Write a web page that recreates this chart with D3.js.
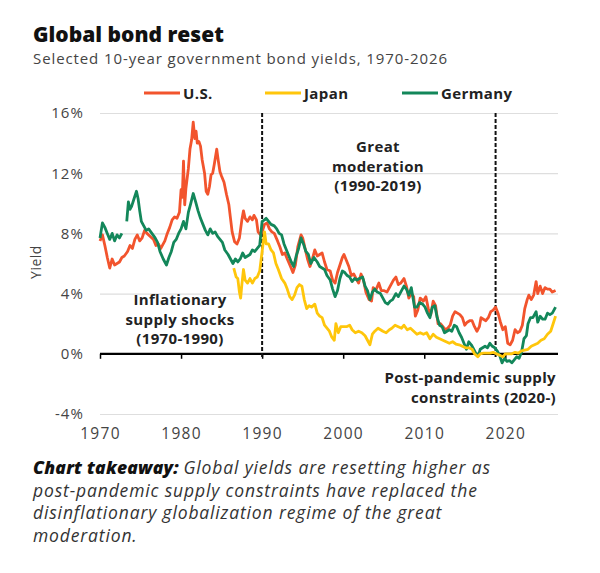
<!DOCTYPE html>
<html>
<head>
<meta charset="utf-8">
<script src="https://cdn.jsdelivr.net/npm/d3@7"></script>
<style>
  body { margin: 0; background: #fff; }
  text { font-family: "Open Sans", "Liberation Sans", sans-serif; }
</style>
</head>
<body>
<div id="chart"></div>
<script>
// 10-year government bond yields (year, % yield)
var usYears = [1970.0,1970.3,1970.6,1970.9,1971.2,1971.5,1971.8,1972.1,1972.4,1972.7,1973.0,1973.4,1973.7,1974.0,1974.3,1974.6,1974.9,1975.2,1975.5,1975.8,1976.2,1976.6,1976.9,1977.2,1977.5,1978.0,1978.3,1978.6,1978.9,1979.2,1979.5,1979.8,1980.0,1980.15,1980.3,1980.45,1980.6,1980.9,1981.1,1981.3,1981.5,1981.7,1981.85,1982.0,1982.2,1982.4,1982.6,1982.9,1983.1,1983.3,1983.5,1983.7,1983.9,1984.1,1984.4,1984.6,1984.8,1985.0,1985.3,1985.6,1985.9,1986.1,1986.3,1986.6,1986.9,1987.2,1987.5,1987.7,1987.9,1988.2,1988.5,1988.8,1989.0,1989.3,1989.5,1989.8,1990.0,1990.3,1990.6,1990.9,1991.2,1991.5,1991.9,1992.2,1992.5,1992.8,1993.1,1993.5,1993.8,1994.1,1994.4,1994.8,1995.0,1995.3,1995.6,1995.9,1996.2,1996.5,1996.8,1997.1,1997.4,1997.7,1998.0,1998.4,1998.7,1999.0,1999.3,1999.6,1999.9,2000.1,2000.4,2000.7,2001.0,2001.3,2001.6,2001.9,2002.2,2002.5,2002.8,2003.2,2003.5,2003.7,2004.0,2004.4,2004.7,2005.0,2005.4,2005.8,2006.2,2006.5,2006.8,2007.1,2007.5,2007.8,2008.1,2008.4,2008.7,2008.9,2009.2,2009.5,2009.9,2010.2,2010.5,2010.8,2011.1,2011.4,2011.7,2012.0,2012.3,2012.6,2012.9,2013.2,2013.5,2013.8,2014.1,2014.4,2014.7,2015.0,2015.3,2015.6,2015.9,2016.2,2016.5,2016.8,2017.0,2017.3,2017.6,2017.9,2018.2,2018.5,2018.8,2019.1,2019.4,2019.7,2020.0,2020.3,2020.6,2020.9,2021.2,2021.5,2021.8,2022.1,2022.4,2022.7,2022.9,2023.2,2023.5,2023.8,2024.0,2024.3,2024.6,2024.9,2025.2,2025.5,2025.8,2026.2];
var usYield = [7.5,7.9,7.2,6.4,5.7,6.3,5.9,6.0,6.1,6.4,6.5,6.8,7.2,7.0,7.6,7.9,7.5,7.7,8.2,8.0,7.8,7.6,7.2,7.3,7.0,7.5,8.0,8.4,8.9,9.1,9.0,9.4,10.9,10.4,12.8,9.9,11.0,12.3,13.6,14.2,15.4,14.3,14.8,14.0,14.1,13.8,12.9,12.0,10.8,10.6,11.1,11.9,12.0,12.6,13.6,12.8,12.1,11.8,11.4,10.6,9.9,9.0,8.1,7.45,7.3,7.7,8.9,9.5,9.0,8.8,9.1,8.9,9.2,8.9,8.1,7.9,8.1,8.6,8.7,8.3,8.1,8.0,7.5,7.1,6.6,6.7,6.3,5.8,5.4,5.9,7.1,7.9,7.7,7.0,6.3,5.8,6.3,6.9,6.5,6.6,6.7,6.1,5.6,5.5,4.9,4.7,5.4,5.9,6.4,6.6,6.2,5.8,5.2,5.3,5.0,4.7,5.3,4.9,4.1,3.6,3.5,4.4,4.2,4.7,4.2,4.2,4.1,4.5,4.9,5.1,4.6,4.7,5.0,4.5,3.7,4.0,3.8,2.5,2.9,3.7,3.5,3.8,3.0,2.6,3.5,3.2,2.0,2.0,1.8,1.6,1.7,1.9,2.5,2.8,2.7,2.6,2.4,1.9,2.1,2.2,2.2,1.8,1.5,1.8,2.4,2.3,2.2,2.4,2.8,2.9,3.1,2.7,2.1,1.6,1.8,0.7,0.6,0.9,1.6,1.4,1.5,1.9,3.0,3.6,3.9,3.6,3.9,4.8,4.0,4.5,4.0,4.4,4.3,4.3,4.1,4.2];

var japanYears = [1986.5,1986.8,1987.0,1987.2,1987.35,1987.5,1987.7,1987.9,1988.2,1988.5,1988.8,1989.1,1989.4,1989.7,1990.0,1990.3,1990.5,1990.8,1991.1,1991.4,1991.7,1992.0,1992.4,1992.8,1993.1,1993.4,1993.7,1994.0,1994.3,1994.6,1994.9,1995.2,1995.5,1995.8,1996.1,1996.5,1996.8,1997.1,1997.4,1997.7,1998.0,1998.3,1998.6,1998.9,1999.1,1999.4,1999.7,2000.0,2000.4,2000.8,2001.1,2001.5,2001.9,2002.3,2002.7,2003.0,2003.3,2003.6,2003.9,2004.3,2004.6,2004.9,2005.3,2005.7,2006.0,2006.4,2006.8,2007.2,2007.5,2007.9,2008.3,2008.7,2009.1,2009.5,2009.9,2010.3,2010.7,2011.1,2011.5,2011.9,2012.3,2012.7,2013.1,2013.5,2013.9,2014.3,2014.7,2015.1,2015.5,2015.9,2016.2,2016.6,2016.9,2017.3,2017.7,2018.1,2018.5,2018.9,2019.3,2019.7,2020.0,2020.4,2020.8,2021.2,2021.6,2022.0,2022.4,2022.8,2023.2,2023.6,2024.0,2024.4,2024.8,2025.2,2025.6,2025.9,2026.2];
var japanYield = [5.7,5.1,5.0,4.1,3.7,4.6,5.6,4.9,4.7,5.0,4.7,5.0,5.1,5.5,6.8,8.1,7.3,7.3,6.9,6.7,6.0,5.6,5.0,4.7,4.3,3.8,3.6,3.9,4.4,4.6,4.5,3.6,3.0,3.2,3.1,3.3,2.7,2.5,2.4,1.9,1.7,1.5,1.1,0.9,2.0,1.4,1.8,1.8,1.8,1.9,1.6,1.4,1.5,1.4,1.2,0.9,0.6,1.3,1.5,1.7,1.6,1.5,1.4,1.6,1.7,1.9,1.8,1.7,1.9,1.6,1.7,1.5,1.3,1.4,1.3,1.4,1.0,1.3,1.1,1.0,0.9,0.8,0.7,0.8,0.65,0.6,0.5,0.4,0.4,0.3,0.0,-0.2,0.0,0.05,0.05,0.05,0.1,0.0,-0.1,-0.2,0.0,0.0,0.0,0.1,0.05,0.2,0.25,0.3,0.5,0.6,0.7,0.9,1.0,1.3,1.5,2.0,2.5];

// null marks the gap in the German series around 1973
var germanyYears = [1970.0,1970.3,1970.6,1970.9,1971.2,1971.5,1971.8,1972.1,1972.4,1972.7,1973.0,1973.3,1973.5,1973.7,1973.9,1974.2,1974.5,1974.7,1974.9,1975.1,1975.4,1975.7,1976.0,1976.4,1976.8,1977.1,1977.4,1977.8,1978.2,1978.5,1978.8,1979.1,1979.4,1979.7,1980.0,1980.3,1980.6,1980.9,1981.2,1981.5,1981.8,1982.1,1982.4,1982.7,1983.0,1983.3,1983.6,1983.9,1984.2,1984.5,1984.8,1985.1,1985.4,1985.8,1986.1,1986.4,1986.7,1987.0,1987.3,1987.6,1987.9,1988.2,1988.5,1988.8,1989.1,1989.4,1989.7,1990.0,1990.3,1990.5,1990.8,1991.1,1991.5,1991.8,1992.1,1992.4,1992.7,1993.0,1993.3,1993.6,1993.9,1994.2,1994.5,1994.8,1995.1,1995.4,1995.7,1996.0,1996.4,1996.8,1997.1,1997.4,1997.7,1998.0,1998.4,1998.7,1999.0,1999.3,1999.6,1999.9,2000.2,2000.5,2000.8,2001.1,2001.4,2001.7,2002.0,2002.4,2002.7,2003.0,2003.3,2003.6,2003.9,2004.2,2004.6,2004.9,2005.2,2005.5,2005.8,2006.1,2006.5,2006.8,2007.1,2007.5,2007.8,2008.1,2008.4,2008.8,2009.1,2009.4,2009.8,2010.1,2010.4,2010.7,2011.0,2011.3,2011.6,2011.9,2012.2,2012.5,2012.8,2013.1,2013.4,2013.7,2014.0,2014.3,2014.6,2014.9,2015.2,2015.5,2015.8,2016.1,2016.4,2016.7,2016.9,2017.2,2017.5,2017.8,2018.1,2018.4,2018.7,2019.0,2019.3,2019.6,2019.9,2020.2,2020.5,2020.8,2021.1,2021.4,2021.7,2022.0,2022.3,2022.6,2022.8,2023.1,2023.4,2023.8,2024.0,2024.3,2024.6,2024.9,2025.2,2025.5,2025.8,2026.2];
var germanyYield = [7.7,8.7,8.4,8.0,7.6,8.0,7.5,7.9,7.7,8.0,null,8.8,10.1,9.6,9.8,10.3,10.8,10.3,9.5,8.8,8.5,8.2,8.3,8.0,7.7,7.4,6.8,6.3,5.9,6.4,6.8,7.4,7.6,8.0,8.3,8.8,8.3,9.4,10.0,10.65,10.1,9.5,9.0,8.6,8.2,7.9,8.3,8.0,8.1,7.8,7.6,7.4,6.9,6.6,6.3,6.0,6.3,6.1,6.3,6.7,6.4,6.5,6.6,6.9,6.8,7.0,7.2,8.8,8.9,9.0,8.8,8.6,8.5,8.3,8.0,7.9,7.3,6.9,6.5,6.1,5.8,6.5,7.0,7.7,7.3,6.8,6.6,6.0,6.4,6.1,5.8,5.7,5.6,5.2,4.9,4.3,3.8,4.2,5.0,5.5,5.4,5.2,5.1,4.8,5.0,4.9,5.0,5.1,4.5,4.2,3.6,4.1,4.3,4.1,4.0,3.7,3.4,3.3,3.5,3.6,4.0,3.8,4.1,4.5,4.3,3.9,4.4,3.1,3.1,3.4,3.3,3.1,2.7,2.4,3.1,3.2,2.4,1.9,1.8,1.4,1.5,1.6,1.5,1.9,1.8,1.4,1.1,0.7,0.3,0.8,0.6,0.3,0.0,-0.1,0.3,0.4,0.5,0.4,0.7,0.5,0.4,0.2,-0.1,-0.6,-0.3,-0.5,-0.45,-0.6,-0.4,-0.2,-0.3,0.1,1.0,1.2,2.0,2.4,2.4,2.8,2.1,2.5,2.3,2.3,2.7,2.6,2.7,3.1];

var yTicks = [-4, 0, 4, 8, 12, 16];
var xTicks = [1970, 1980, 1990, 2000, 2010, 2020];
var regimeBreaks = [1990, 2018.8];

var seriesNames = ["U.S.", "Japan", "Germany"];
var seriesColors = ["#f2542d", "#ffc60b", "#13875a"];

var width = 600, height = 573;

var svg = d3.select("#chart").append("svg")
  .attr("width", width)
  .attr("height", height);

svg.append("rect").attr("width", width).attr("height", height).attr("fill", "#fff");

var x = d3.scaleLinear().domain([1970, 2026.5]).range([100, 558]);
var y = d3.scaleLinear().domain([-4, 16]).range([414, 113]);

// title and subtitle
svg.append("text").attr("x", 33).attr("y", 42)
  .style("font-size", "21px").style("font-weight", 800).attr("fill", "#111")
  .text("Global bond reset");
svg.append("text").attr("x", 33).attr("y", 64)
  .style("font-size", "15px").style("letter-spacing", "0.9px").attr("fill", "#444")
  .text("Selected 10-year government bond yields, 1970-2026");

// legend
var legendX = [144, 265, 402];
seriesNames.forEach(function(n, i) {
  svg.append("line").attr("x1", legendX[i]).attr("x2", legendX[i] + 36)
    .attr("y1", 93).attr("y2", 93)
    .attr("stroke", seriesColors[i]).attr("stroke-width", 3);
  svg.append("text").attr("x", legendX[i] + 39).attr("y", 98.5)
    .style("font-size", "15px").style("font-weight", 700)
    .style("letter-spacing", "0.4px").attr("fill", "#222")
    .text(n);
});

// gridlines
var grid = svg.append("g").attr("transform", "translate(100,0)")
  .call(d3.axisLeft(y).tickValues(yTicks.filter(function(d) { return d !== 0; }))
    .tickSize(-458).tickFormat(""));
grid.select(".domain").remove();
grid.selectAll("line").attr("stroke", "#dedede").attr("stroke-width", 1.2);

// y labels
var yAx = svg.append("g").attr("transform", "translate(84,0)")
  .call(d3.axisLeft(y).tickValues(yTicks).tickSize(0).tickPadding(0)
    .tickFormat(function(d) { return d + "%"; }));
yAx.select(".domain").remove();
yAx.selectAll("text").style("font-size", "15px").style("letter-spacing", "1.1px")
  .attr("fill", "#444").style("font-family", "'Open Sans', sans-serif");

svg.append("text")
  .attr("transform", "translate(41,262) rotate(-90)")
  .attr("text-anchor", "middle")
  .style("font-size", "14px").style("letter-spacing", "0.5px").attr("fill", "#444")
  .text("Yield");

// zero axis with decade ticks
var zeroAx = svg.append("g").attr("transform", "translate(0," + y(0) + ")")
  .call(d3.axisBottom(x).tickValues(xTicks).tickSize(5).tickFormat(""));
zeroAx.select(".domain").attr("stroke", "#000").attr("stroke-width", 2.2)
  .attr("d", "M" + x(1970) + ",0H" + x(2026.5));
zeroAx.selectAll(".tick line").attr("stroke", "#000").attr("stroke-width", 1.5);

// x labels
var xAx = svg.append("g").attr("transform", "translate(0,425)")
  .call(d3.axisBottom(x).tickValues(xTicks).tickSize(0).tickFormat(d3.format("d")));
xAx.select(".domain").remove();
xAx.selectAll("text").style("font-size", "15.5px").style("letter-spacing", "1.3px")
  .attr("fill", "#444").style("font-family", "'Open Sans', sans-serif");

// regime break lines
svg.selectAll(".brk").data(regimeBreaks).enter().append("line")
  .attr("class", "brk")
  .attr("x1", function(d) { return x(d); }).attr("x2", function(d) { return x(d); })
  .attr("y1", y(16)).attr("y2", y(0) + 5)
  .attr("stroke", "#111").attr("stroke-width", 2)
  .attr("stroke-dasharray", "4,2");

// series lines
var line = d3.line()
  .defined(function(d) { return d[1] !== null; })
  .x(function(d) { return x(d[0]); })
  .y(function(d) { return y(d[1]); });

var series = [
  d3.zip(usYears, usYield),
  d3.zip(japanYears, japanYield),
  d3.zip(germanyYears, germanyYield)
];
[0, 2, 1].forEach(function(i) {
  svg.append("path").datum(series[i])
    .attr("d", line)
    .attr("fill", "none")
    .attr("stroke", seriesColors[i])
    .attr("stroke-width", 2.8)
    .attr("stroke-linejoin", "round");
});

// annotations
function note(lines, xPos, yPos, anchor) {
  var t = svg.append("text").attr("text-anchor", anchor)
    .style("font-size", "15px").style("font-weight", 700)
    .style("letter-spacing", "0.35px").attr("fill", "#222");
  lines.forEach(function(l, i) {
    t.append("tspan").attr("x", xPos).attr("y", yPos + i * 19.5).text(l);
  });
}
note(["Great", "moderation", "(1990-2019)"], 378, 152, "middle");
note(["Inflationary", "supply shocks", "(1970-1990)"], 180, 305, "middle");
note(["Post-pandemic supply", "constraints (2020-)"], 556, 383, "end");

// takeaway
var take = ["Global yields are resetting higher as",
  "post-pandemic supply constraints have replaced the",
  "disinflationary globalization regime of the great",
  "moderation."];
var tk = svg.append("text").style("font-size", "17.5px").style("font-style", "italic")
  .style("letter-spacing", "0.85px").attr("fill", "#333");
take.forEach(function(l, i) {
  var ts = tk.append("tspan").attr("x", 33).attr("y", 474 + i * 22.5);
  if (i === 0) {
    ts.append("tspan").style("font-weight", 800).style("letter-spacing", "0.2px")
      .attr("fill", "#111").text("Chart takeaway: ");
    ts.append("tspan").text(l);
  } else {
    ts.text(l);
  }
});
</script>
</body>
</html>
